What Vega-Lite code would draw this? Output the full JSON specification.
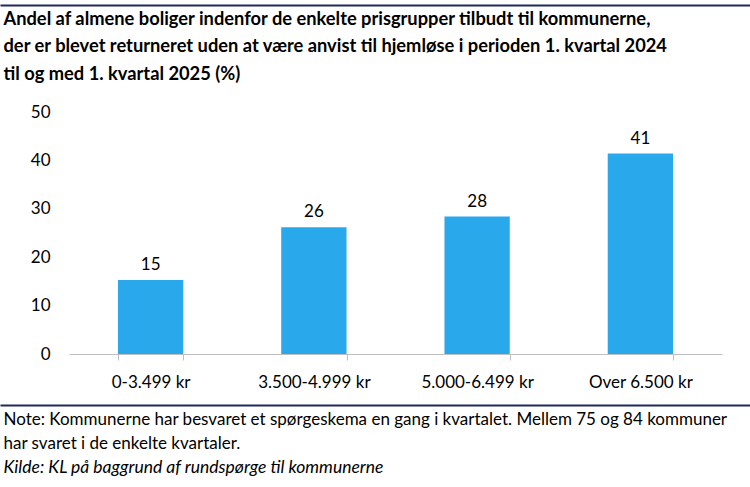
{
  "$schema": "https://vega.github.io/schema/vega-lite/v6.json",
  "width": 653,
  "height": 242,
  "autosize": {"type": "none"},
  "padding": {"left": 69, "top": 112, "right": 28, "bottom": 133},
  "background": "white",
  "config": {
    "font": "Lato",
    "view": {"stroke": null},
    "axis": {"grid": false}
  },
  "data": {
    "values": [
      {"gruppe": "0-3.499 kr", "andel": 15.3},
      {"gruppe": "3.500-4.999 kr", "andel": 26.2},
      {"gruppe": "5.000-6.499 kr", "andel": 28.4},
      {"gruppe": "Over 6.500 kr", "andel": 41.4}
    ]
  },
  "resolve": {"scale": {"x": "independent"}, "axis": {"x": "independent"}},
  "layer": [
    {
      "encoding": {
        "x": {
          "field": "gruppe",
          "type": "nominal",
          "sort": null,
          "scale": {"paddingInner": 0.6, "paddingOuter": 0.3},
          "axis": {
            "title": null,
            "labelAngle": 0,
            "labelFontSize": 17,
            "labelColor": "#000000",
            "labelBaseline": "top",
            "labelPadding": 14,
            "domainColor": "#bfbfbf",
            "tickColor": "#bfbfbf",
            "tickSize": 6,
            "tickBand": "extent"
          }
        },
        "y": {
          "field": "andel",
          "type": "quantitative",
          "scale": {"domain": [0, 50]},
          "axis": {
            "title": null,
            "values": [0, 10, 20, 30, 40, 50],
            "domain": false,
            "ticks": false,
            "labelPadding": 19,
            "labelFontSize": 17,
            "labelColor": "#000000"
          }
        }
      },
      "layer": [
        {"mark": {"type": "bar", "color": "#29A8EC"}},
        {
          "mark": {"type": "text", "baseline": "bottom", "dy": -6, "fontSize": 17, "color": "#000000"},
          "encoding": {"text": {"field": "andel", "type": "quantitative", "format": ".0f"}}
        }
      ]
    },
    {
      "data": {"values": [{"k": 0}]},
      "mark": {"type": "point", "opacity": 0},
      "encoding": {
        "x": {
          "field": "k",
          "type": "quantitative",
          "scale": {"domain": [0, 1], "range": [-69, 681]},
          "axis": {
            "orient": "top",
            "offset": 107,
            "domainColor": "#1F2A5C",
            "domainWidth": 2,
            "ticks": false,
            "labels": false,
            "title": [
              "Andel af almene boliger indenfor de enkelte prisgrupper tilbudt til kommunerne,",
              "der er blevet returneret uden at være anvist til hjemløse i perioden 1. kvartal 2024",
              "til og med 1. kvartal 2025 (%)"
            ],
            "titleX": -66,
            "titleY": 19,
            "titleAlign": "left",
            "titleAnchor": "start",
            "titleBaseline": "alphabetic",
            "titleAngle": 0,
            "titleFontSize": 18.3,
            "titleFontWeight": "bold",
            "titleColor": "#000000",
            "titleLineHeight": 27.5
          }
        }
      }
    },
    {
      "data": {"values": [{"k": 0}]},
      "mark": {"type": "point", "opacity": 0},
      "encoding": {
        "x": {
          "field": "k",
          "type": "quantitative",
          "scale": {"domain": [0, 1], "range": [-69, 681]},
          "axis": {
            "orient": "bottom",
            "offset": 51,
            "domainColor": "#1F2A5C",
            "domainWidth": 2,
            "ticks": false,
            "labels": false,
            "title": [
              "Note: Kommunerne har besvaret et spørgeskema en gang i kvartalet. Mellem 75 og 84 kommuner",
              "har svaret i de enkelte kvartaler."
            ],
            "titleX": -66,
            "titleY": 19,
            "titleAlign": "left",
            "titleAnchor": "start",
            "titleBaseline": "alphabetic",
            "titleAngle": 0,
            "titleFontSize": 17,
            "titleFontWeight": "normal",
            "titleColor": "#000000",
            "titleLineHeight": 24
          }
        }
      }
    },
    {
      "data": {"values": [{"k": 0}]},
      "mark": {"type": "point", "opacity": 0},
      "encoding": {
        "x": {
          "field": "k",
          "type": "quantitative",
          "scale": {"domain": [0, 1], "range": [-69, 681]},
          "axis": {
            "orient": "bottom",
            "offset": 51,
            "domain": false,
            "ticks": false,
            "labels": false,
            "title": "Kilde: KL på baggrund af rundspørge til kommunerne",
            "titleX": -66,
            "titleY": 67,
            "titleAlign": "left",
            "titleAnchor": "start",
            "titleBaseline": "alphabetic",
            "titleAngle": 0,
            "titleFontSize": 17.5,
            "titleFontWeight": "normal",
            "titleFontStyle": "italic",
            "titleColor": "#000000"
          }
        }
      }
    }
  ]
}
